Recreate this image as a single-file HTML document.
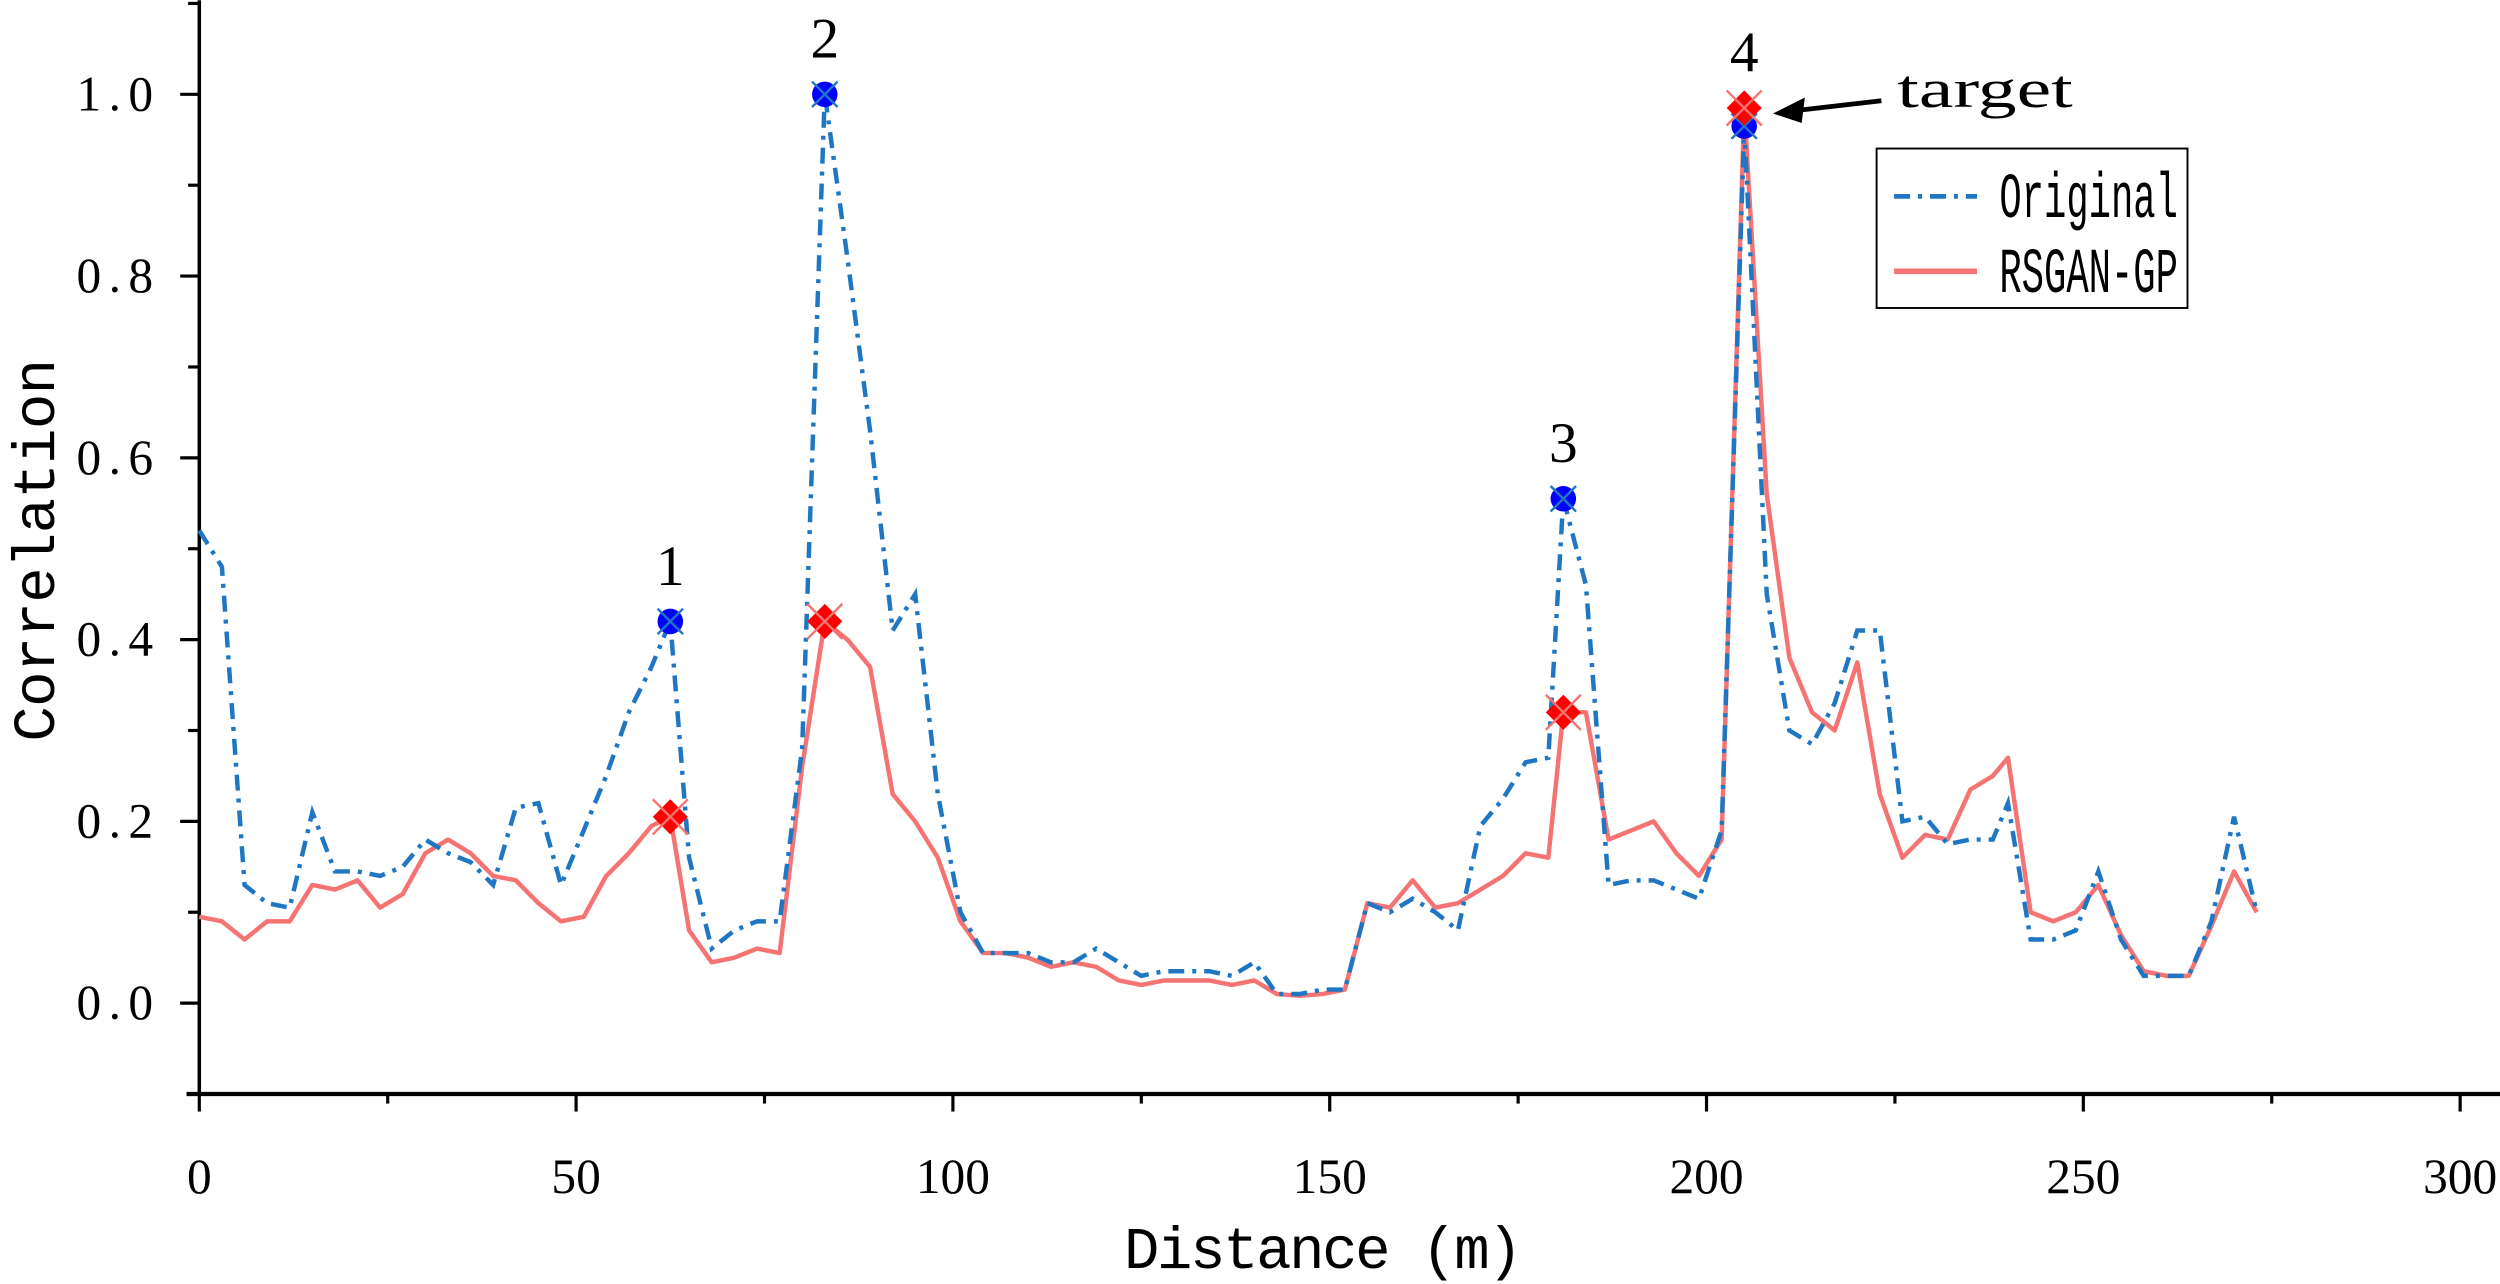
<!DOCTYPE html>
<html><head><meta charset="utf-8"><style>
html,body{margin:0;padding:0;background:#fff}
svg{display:block}
</style></head><body>
<svg id="chart" width="2500" height="1284" viewBox="0 0 1568 805" xmlns="http://www.w3.org/2000/svg">
<g id="axes"></g>
<g id="series"></g>
<g id="annot"></g>
</svg>
<script>
const distance=[0,3,6,9,12,15,18,21,24,27,30,33,36,39,42,45,48,51,54,57,60,62.5,65,68,71,74,77,80,83,86,89,92,95,98,101,104,107,110,113,116,119,122,125,128,131,134,137,140,143,146,149,152,155,158,161,164,167,170,173,176,179,181,184,187,190,193,196,199,202,205,208,211,214,217,220,223,226,229,232,235,238,240,243,246,249,252,255,258,261,264,267,270,273];
const original=[0.52,0.48,0.13,0.11,0.105,0.21,0.145,0.145,0.14,0.15,0.18,0.165,0.155,0.13,0.215,0.22,0.13,0.19,0.25,0.32,0.37,0.42,0.16,0.06,0.08,0.09,0.09,0.28,1.0,0.82,0.63,0.41,0.45,0.23,0.1,0.055,0.055,0.055,0.045,0.045,0.06,0.045,0.03,0.035,0.035,0.035,0.03,0.045,0.01,0.01,0.015,0.015,0.11,0.1,0.115,0.1,0.08,0.195,0.225,0.265,0.27,0.555,0.46,0.13,0.135,0.135,0.125,0.115,0.19,0.965,0.45,0.3,0.285,0.33,0.41,0.41,0.2,0.205,0.175,0.18,0.18,0.22,0.07,0.07,0.08,0.145,0.07,0.03,0.03,0.03,0.09,0.205,0.1];
const rsgan=[0.095,0.09,0.07,0.09,0.09,0.13,0.125,0.135,0.105,0.12,0.165,0.18,0.165,0.14,0.135,0.11,0.09,0.095,0.14,0.165,0.195,0.205,0.08,0.045,0.05,0.06,0.055,0.26,0.42,0.4,0.37,0.23,0.2,0.16,0.09,0.055,0.055,0.05,0.04,0.045,0.04,0.025,0.02,0.025,0.025,0.025,0.02,0.025,0.01,0.008,0.01,0.015,0.11,0.105,0.135,0.105,0.11,0.125,0.14,0.165,0.16,0.32,0.32,0.18,0.19,0.2,0.165,0.14,0.18,0.985,0.56,0.38,0.32,0.3,0.375,0.23,0.16,0.185,0.18,0.235,0.25,0.27,0.1,0.09,0.1,0.13,0.075,0.035,0.03,0.03,0.085,0.145,0.1];
const peakIdx=[21,28,61,69];
const peakLabels=["1","2","3","4"];
const xTicks=[0,50,100,150,200,250,300];
const yTicks=[0.0,0.2,0.4,0.6,0.8,1.0];

const NS="http://www.w3.org/2000/svg";
const X0=125,XS=(1543-125)/300,Y0=629,YS=570;
const sx=v=>X0+v*XS, sy=v=>Y0-v*YS;
function mk(tag,attrs,parent,text){const e=document.createElementNS(NS,tag);for(const k in attrs)e.setAttribute(k,attrs[k]);if(text!==undefined)e.textContent=text;parent.appendChild(e);return e;}
const axes=document.getElementById('axes'),ser=document.getElementById('series'),ann=document.getElementById('annot');

let a=mk('line',{x1:X0,y1:0,x2:X0,y2:sy(-0.1),stroke:'#000','stroke-width':2.2},axes);

a=mk('line',{x1:X0-8,y1:sy(-0.1),x2:1568,y2:sy(-0.1),stroke:'#000','stroke-width':2.6},axes);

for(let v=-0.1;v<=1.101;v+=0.1){const major=Math.abs(Math.round(v*10)%2)===0;
 const t=mk('line',{x1:X0-(major?12:7),y1:sy(v),x2:X0,y2:sy(v),stroke:'#000','stroke-width':2},axes);
 }
yTicks.forEach(v=>{const t=mk('text',{x:96,y:sy(v)+10,'text-anchor':'end','font-family':'Liberation Serif, serif','font-size':31,textLength:48,lengthAdjust:'spacing'},axes,v.toFixed(1));
 });
for(let v=0;v<=300;v+=25){const major=v%50===0;
 const t=mk('line',{x1:sx(v),y1:sy(-0.1),x2:sx(v),y2:sy(-0.1)+(major?11:6),stroke:'#000','stroke-width':2},axes);
 }
xTicks.forEach(v=>{const t=mk('text',{x:sx(v),y:748,'text-anchor':'middle','font-family':'Liberation Serif, serif','font-size':31},axes,String(v));
 });
a=mk('text',{x:830,y:795,'text-anchor':'middle','font-family':'Liberation Mono, monospace','font-size':37,textLength:250},axes,'Distance (m)');

a=mk('text',{x:0,y:0,'text-anchor':'middle','font-family':'Liberation Mono, monospace','font-size':37,textLength:240,transform:'translate(34,345) rotate(-90)'},axes,'Correlation');


const pts=arr=>arr.map((v,i)=>sx(distance[i]).toFixed(1)+','+sy(v).toFixed(1)).join(' ');
let l=mk('polyline',{points:pts(rsgan),fill:'none',stroke:'#f57373','stroke-width':2.8,'stroke-linejoin':'round'},ser);

l=mk('polyline',{points:pts(original),fill:'none',stroke:'#1f77c4','stroke-width':2.8,'stroke-dasharray':'10,5,2.5,5'},ser);


peakIdx.forEach((idx,k)=>{
 const x=sx(distance[idx]);
 let y=sy(original[idx]);
 let g=mk('g',{},ser);
 
 mk('circle',{cx:x,cy:y,r:8,fill:'#0000ff'},g);
 mk('path',{d:`M${x-8},${y-8}L${x+8},${y+8}M${x+8},${y-8}L${x-8},${y+8}`,stroke:'#1f77c4','stroke-width':1.5},g);
 const top=Math.max(original[idx],rsgan[idx]);
 const lab=mk('text',{x:x,y:sy(top)-23,'text-anchor':'middle','font-family':'Liberation Serif, serif','font-size':36},ann,peakLabels[k]);
 
 y=sy(rsgan[idx]);
 g=mk('g',{},ser);
 
 mk('path',{d:`M${x},${y-11}L${x+11},${y}L${x},${y+11}L${x-11},${y}Z`,fill:'#ff0000'},g);
 mk('path',{d:`M${x-11},${y-11}L${x+11},${y+11}M${x+11},${y-11}L${x-11},${y+11}`,stroke:'#f57373','stroke-width':1.5},g);
});

a=mk('line',{x1:1180,y1:63,x2:1128,y2:69,stroke:'#000','stroke-width':3},ann);

mk('path',{d:'M1112,71L1132,61L1130,77Z',fill:'#000'},ann);
a=mk('text',{x:1190,y:67,'font-family':'Liberation Serif, serif','font-size':34,textLength:110,lengthAdjust:'spacingAndGlyphs'},ann,'target');


const lg=mk('g',{},ann);

mk('rect',{x:1177,y:93,width:195,height:100,fill:'#fff',stroke:'#000','stroke-width':1.2},lg);
let e=mk('line',{x1:1188,y1:123,x2:1240,y2:123,stroke:'#1f77c4','stroke-width':3,'stroke-dasharray':'10,5,2.5,5'},lg);

mk('text',{x:1254,y:136,'font-family':'Liberation Mono, monospace','font-size':40,textLength:112,lengthAdjust:'spacingAndGlyphs'},lg,'Original');
e=mk('line',{x1:1188,y1:170,x2:1240,y2:170,stroke:'#f57373','stroke-width':3.5},lg);

mk('text',{x:1254,y:183,'font-family':'Liberation Mono, monospace','font-size':40,textLength:112,lengthAdjust:'spacingAndGlyphs'},lg,'RSGAN-GP');
</script>
</body></html>
